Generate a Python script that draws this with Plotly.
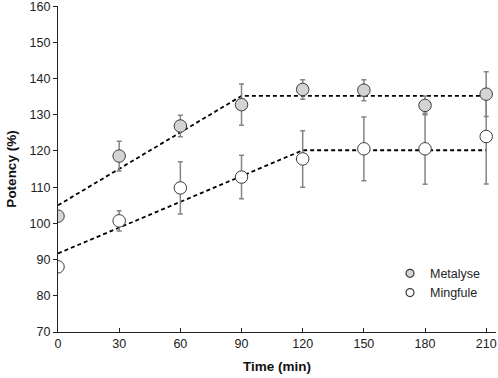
import plotly.graph_objects as go

time_min = [0, 30, 60, 90, 120, 150, 180, 210]
metalyse = [102.0, 118.6, 126.9, 132.8, 137.0, 136.8, 132.6, 135.7]
metalyse_sd = [0, 4.1, 3.0, 5.7, 2.7, 2.9, 2.6, 6.2]
mingfule = [88.0, 100.7, 109.8, 112.8, 117.8, 120.6, 120.6, 124.0]
mingfule_sd = [0, 2.8, 7.2, 6.0, 7.8, 8.8, 9.8, 13.1]

fit_metalyse_x = [0, 90, 210]
fit_metalyse_y = [105.0, 135.2, 135.2]
fit_mingfule_x = [0, 120, 210]
fit_mingfule_y = [91.7, 120.2, 120.2]

y_ticks = [70, 80, 90, 100, 110, 120, 130, 140, 150, 160]
x_ticks = [0, 30, 60, 90, 120, 150, 180, 210]

FONT = "Liberation Sans, Arial, sans-serif"
EDGE = "#3a3a3a"
GRAYFILL = "#d4d4d4"

fig = go.Figure()

dash = "4px,3px"
fig.add_trace(go.Scatter(x=fit_metalyse_x, y=fit_metalyse_y, mode="lines",
                         line=dict(color="black", width=1.8, dash=dash),
                         showlegend=False, hoverinfo="skip"))
fig.add_trace(go.Scatter(x=fit_mingfule_x, y=fit_mingfule_y, mode="lines",
                         line=dict(color="black", width=1.8, dash=dash),
                         showlegend=False, hoverinfo="skip"))

fig.add_trace(go.Scatter(
    x=time_min, y=mingfule, mode="markers", name="Mingfule", showlegend=False,
    marker=dict(size=12.5, color="white", line=dict(color=EDGE, width=1)),
    error_y=dict(type="data", array=mingfule_sd, color="#858585", thickness=1.5, width=2.5)))
fig.add_trace(go.Scatter(
    x=time_min, y=metalyse, mode="markers", name="Metalyse", showlegend=False,
    marker=dict(size=12.5, color=GRAYFILL, line=dict(color=EDGE, width=1)),
    error_y=dict(type="data", array=metalyse_sd, color="#858585", thickness=1.5, width=2.5)))

# legend entries
fig.add_trace(go.Scatter(x=[None], y=[None], mode="markers", name="Metalyse",
                         marker=dict(size=8, color=GRAYFILL, line=dict(color=EDGE, width=1.2))))
fig.add_trace(go.Scatter(x=[None], y=[None], mode="markers", name="Mingfule",
                         marker=dict(size=8, color="white", line=dict(color=EDGE, width=1.2))))

fig.update_layout(
    width=498, height=378,
    margin=dict(l=58, r=2, t=6, b=46),
    paper_bgcolor="white", plot_bgcolor="white",
    font=dict(family=FONT, size=12, color="#222222"),
    legend=dict(x=0.758, y=0.225, xanchor="left", yanchor="top",
                bgcolor="rgba(0,0,0,0)", font=dict(size=12.5, color="#222222"),
                itemwidth=30, tracegroupgap=0),
    xaxis=dict(range=[0, 214.8], tickvals=x_ticks, ticktext=[str(v) for v in x_ticks],
               showgrid=False, zeroline=False, showline=True, linecolor="#222222",
               linewidth=1.2, ticks="inside", ticklen=4, tickcolor="#222222",
               tickfont=dict(size=12.5), automargin=False, ticklabeloverflow="allow",
               title=dict(text="<b>Time (min)</b>", font=dict(size=13.5, color="#111111"), standoff=11)),
    yaxis=dict(range=[70, 160.05], tickvals=y_ticks, ticktext=[str(v) for v in y_ticks],
               showgrid=False, zeroline=False, showline=True, linecolor="#222222",
               linewidth=1.2, ticks="outside", ticklen=4, tickcolor="#222222",
               tickfont=dict(size=12.5), automargin=False, ticklabeloverflow="allow",
               title=dict(text="<b>Potency (%)</b>", font=dict(size=13.5, color="#111111"), standoff=9)),
)

fig.write_html("out.html", config={"displayModeBar": False},
               post_script="document.body.style.margin='0';document.body.style.padding='0';")
